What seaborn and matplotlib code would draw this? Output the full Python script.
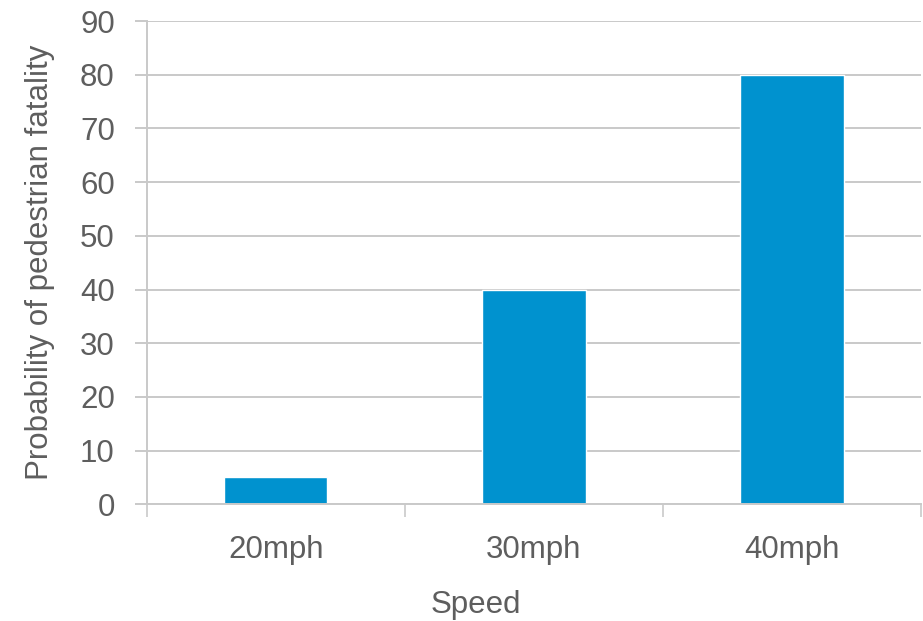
import matplotlib
matplotlib.use("Agg")
import matplotlib.pyplot as plt
import seaborn as sns
import pandas as pd
from matplotlib.ticker import FixedLocator

# 数据
speeds = ["20mph", "30mph", "40mph"]
fatality = [5, 40, 80]
y_ticks = [0, 10, 20, 30, 40, 50, 60, 70, 80, 90]

sns.set_style("white")
plt.rcParams["font.family"] = ["Liberation Sans", "DejaVu Sans"]

df = pd.DataFrame({"Speed": speeds, "Fatality": fatality})

fig = plt.figure(figsize=(9.23, 6.21), dpi=100)
ax = fig.add_axes([0.159, 0.188, 0.839, 0.778])

sns.barplot(data=df, x="Speed", y="Fatality", ax=ax, color="#0092cf",
            width=0.4, saturation=1)

grid_c = "#c9c9c9"
text_c = "#5e5e5e"
fs = 22.5
ax.set_ylim(0, 90)
ax.set_xlim(-0.5, 2.5)
ax.set_yticks(y_ticks)
ax.yaxis.grid(True, color=grid_c, linewidth=1.4)
ax.set_axisbelow(True)

# x 轴刻度放在类别之间
ax.xaxis.set_major_locator(FixedLocator([-0.5, 0.5, 1.5, 2.5]))
ax.xaxis.set_minor_locator(FixedLocator([0, 1, 2]))
ax.set_xticklabels([])
ax.set_xticklabels(speeds, minor=True)
ax.tick_params(axis="x", which="major", length=9, width=1.2, color=grid_c, direction="out", bottom=True)
ax.tick_params(axis="x", which="minor", length=0, pad=22, labelsize=fs, labelcolor=text_c)
ax.tick_params(axis="y", length=9, width=1.4, color=grid_c, direction="out", left=True,
               pad=14, labelsize=fs, labelcolor=text_c)

for side in ["top", "right"]:
    ax.spines[side].set_visible(False)
for side in ["left", "bottom"]:
    ax.spines[side].set_color(grid_c)
    ax.spines[side].set_linewidth(1.4)

ax.set_xlabel("Speed", fontsize=fs, color=text_c, labelpad=18)
ax.xaxis.label.set_x(0.425)
ax.set_ylabel("Probability of pedestrian fatality", fontsize=fs, color=text_c, labelpad=18)

fig.savefig("out.png", dpi=100)
